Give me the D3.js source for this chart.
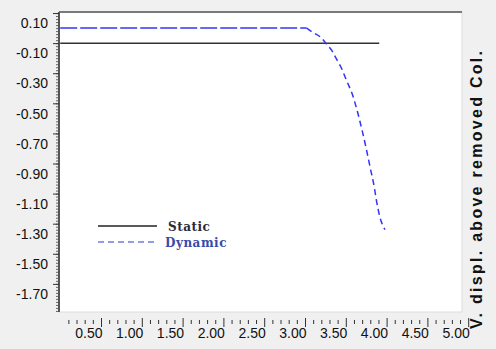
<!DOCTYPE html>
<html>
<head>
<meta charset="utf-8">
<script src="https://cdn.jsdelivr.net/npm/d3@7"></script>
<style>
  body { margin: 0; background: #f0f0f0; }
  svg { display: block; }
</style>
</head>
<body>
<div id="chart"></div>
<script>
// data
const staticX = [0, 3.91];
const staticY = [-0.10, -0.10];
const dynamicX = [0, 3.02, 3.10, 3.19, 3.27, 3.33, 3.39, 3.45, 3.51, 3.58, 3.64, 3.70, 3.75, 3.80, 3.85, 3.88, 3.92, 3.96, 3.98];
const dynamicY = [0.00, 0.00, -0.03, -0.06, -0.11, -0.15, -0.21, -0.27, -0.35, -0.44, -0.55, -0.68, -0.80, -0.93, -1.06, -1.16, -1.26, -1.32, -1.34];
const yTickVals = [0.10, -0.10, -0.30, -0.50, -0.70, -0.90, -1.10, -1.30, -1.50, -1.70];
const xTickVals = [0.5, 1.0, 1.5, 2.0, 2.5, 3.0, 3.5, 4.0, 4.5, 5.0];
const seriesNames = ["Static", "Dynamic"];
const axisTitle = "V. displ. above removed Col.";

const width = 496, height = 349;
const plot = {left: 59, top: 12, right: 462, bottom: 312};

const svg = d3.select("#chart").append("svg")
    .attr("width", width)
    .attr("height", height);

svg.append("rect").attr("width", width).attr("height", height).attr("fill", "#f0f0f0");

const x = d3.scaleLinear().domain([0, 5]).range([60.2, 468.2]);
const y = d3.scaleLinear().domain([-1.887, 0.107]).range([plot.bottom, plot.top]);

// hyphen instead of the unicode minus, like the original
const fmt = d => d3.format(".2f")(d).replace("\u2212", "-");

// plot area
svg.append("rect")
    .attr("x", plot.left).attr("y", plot.top)
    .attr("width", plot.right - plot.left).attr("height", plot.bottom - plot.top)
    .attr("fill", "#fff").attr("stroke", "#dcdcdc");
svg.append("line")
    .attr("x1", plot.left).attr("x2", plot.right)
    .attr("y1", plot.top).attr("y2", plot.top)
    .attr("stroke", "#7a7a7a").attr("stroke-width", 2);

// y axis with minor ticks
const yMinor = d3.range(-1.88, 0.105, 0.02);
svg.append("g")
    .attr("transform", `translate(${plot.left},0)`)
    .call(d3.axisLeft(y).tickValues(yMinor).tickSize(3).tickFormat(""))
    .call(g => g.select(".domain").remove())
    .selectAll("line").attr("stroke", "#666");

const yAxis = svg.append("g")
    .attr("transform", `translate(${plot.left},0)`)
    .call(d3.axisLeft(y).tickValues(yTickVals).tickSize(6).tickPadding(5).tickFormat(fmt));
yAxis.select(".domain").attr("d", `M0,${plot.top}V${plot.bottom}`).attr("stroke", "#555").attr("stroke-width", 2);
yAxis.selectAll("line").attr("stroke", "#333");
yAxis.selectAll("text")
    .attr("dy", "1.05em")
    .style("font-family", "Liberation Sans, Arial, sans-serif")
    .style("font-size", "14px")
    .attr("fill", "#111");

// x axis (separate strip below the plot)
const xMinor = d3.range(0.1, 5.01, 0.1).filter(v => Math.abs(v * 2 - Math.round(v * 2)) > 1e-6);
svg.append("g")
    .attr("transform", "translate(0,320)")
    .call(d3.axisBottom(x).tickValues(xMinor).tickSize(4).tickFormat(""))
    .call(g => g.select(".domain").remove())
    .selectAll("line").attr("stroke", "#333");

const xAxis = svg.append("g")
    .attr("transform", "translate(0,318)")
    .call(d3.axisBottom(x).tickValues(xTickVals).tickSize(9).tickPadding(1).tickFormat(fmt));
xAxis.select(".domain").remove();
xAxis.selectAll("line").attr("stroke", "#333");
xAxis.selectAll("text")
    .attr("text-anchor", "end")
    .attr("dx", "1")
    .style("font-family", "Liberation Sans, Arial, sans-serif")
    .style("font-size", "14px")
    .attr("fill", "#111");

// series
const staticData = staticX.map((v, i) => [v, staticY[i]]);
const dynamicData = dynamicX.map((v, i) => [v, dynamicY[i]]);
const line = d3.line().x(d => x(d[0])).y(d => y(d[1])).curve(d3.curveMonotoneX);

svg.append("path")
    .datum(staticData)
    .attr("d", line)
    .attr("fill", "none")
    .attr("stroke", "#333")
    .attr("stroke-width", 1.5);

// flat part draws with long dashes, the bend with short ones
svg.append("path")
    .datum(dynamicData.filter(d => d[0] <= 3.02))
    .attr("d", line)
    .attr("fill", "none")
    .attr("stroke", "#3434f8")
    .attr("stroke-width", 1.5)
    .attr("stroke-dasharray", "17,3");

svg.append("path")
    .datum(dynamicData.filter(d => d[0] >= 3.02))
    .attr("d", line)
    .attr("fill", "none")
    .attr("stroke", "#3434f8")
    .attr("stroke-width", 1.5)
    .attr("stroke-dasharray", "6,4");

// legend
const legend = svg.append("g").attr("transform", "translate(98,226)");
const legendStyles = [
  {stroke: "#222", dash: null, color: "#2a2a3a"},
  {stroke: "#6f7fd8", dash: "6,4", color: "#3a4aa8"}
];
seriesNames.forEach((name, i) => {
  const row = legend.append("g").attr("transform", `translate(0,${i * 16})`);
  row.append("line")
      .attr("x1", 0).attr("x2", 59)
      .attr("stroke", legendStyles[i].stroke)
      .attr("stroke-width", 1.5)
      .attr("stroke-dasharray", legendStyles[i].dash);
  row.append("text")
      .attr("x", i === 0 ? 70 : 67)
      .attr("y", 5)
      .style("font-family", "DejaVu Serif, serif")
      .style("font-size", "12px")
      .style("font-weight", "bold")
      .style("letter-spacing", "0.5px")
      .attr("fill", legendStyles[i].color)
      .text(name);
});

// right axis title
svg.append("text")
    .attr("transform", "translate(482,190)rotate(-90)")
    .attr("text-anchor", "middle")
    .attr("textLength", 278)
    .attr("lengthAdjust", "spacing")
    .style("font-family", "Liberation Sans, Arial, sans-serif")
    .style("font-size", "16px")
    .style("font-weight", "bold")
    .attr("fill", "#111")
    .text(axisTitle);
</script>
</body>
</html>
